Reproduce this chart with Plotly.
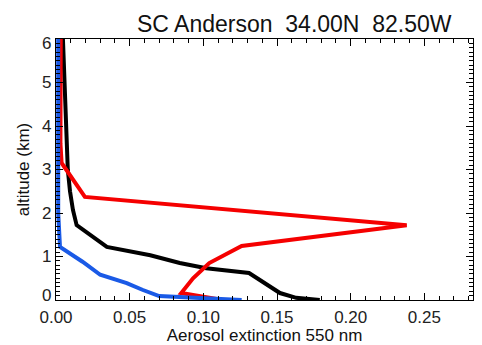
import plotly.graph_objects as go

# Aerosol extinction profiles (km^-1 at 550 nm) versus altitude (km)
black_alt = [0.0, 0.05, 0.16, 0.50, 0.62, 0.73, 0.85, 1.03, 1.22, 1.72, 2.07, 2.50, 3.00, 6.00]
black_ext = [0.179, 0.163, 0.152, 0.136, 0.131, 0.102, 0.084, 0.064, 0.0345, 0.014, 0.0115, 0.0095, 0.008, 0.0047]

red_alt = [0.0, 0.16, 0.50, 0.85, 1.24, 1.72, 2.37, 3.15, 3.60, 6.00]
red_ext = [0.113, 0.085, 0.093, 0.104, 0.126, 0.238, 0.0196, 0.0038, 0.003, 0.0032]

blue_alt = [0.0, 0.07, 0.09, 0.23, 0.39, 0.58, 0.88, 1.22, 2.00, 6.00]
blue_ext = [0.126, 0.085, 0.070, 0.059, 0.048, 0.030, 0.018, 0.0027, 0.0015, 0.0015]

x_ticks = [0.00, 0.05, 0.10, 0.15, 0.20, 0.25]
y_ticks = [0, 1, 2, 3, 4, 5, 6]
y_ticklabels = ["0", "1", "2", "3", "4", "5", "6"]
x_range = [0, 0.283]
y_range = [0, 6]

FONT = "Liberation Sans, Arial, sans-serif"
TICK_FONT = dict(family=FONT, size=17, color="#222222")

fig = go.Figure()
fig.add_trace(go.Scatter(x=black_ext, y=black_alt, mode="lines",
                         line=dict(color="#000000", width=4), showlegend=False))
fig.add_trace(go.Scatter(x=red_ext, y=red_alt, mode="lines",
                         line=dict(color="#f50000", width=4), showlegend=False))
fig.add_trace(go.Scatter(x=blue_ext, y=blue_alt, mode="lines",
                         line=dict(color="#1a5ae6", width=4), showlegend=False))
# empty trace so the mirrored top/right frame axes get drawn
fig.add_trace(go.Scatter(x=[None], y=[None], xaxis="x2", yaxis="y2",
                         showlegend=False, hoverinfo="skip"))

tick_style = dict(ticks="inside", ticklen=7, tickwidth=1.2, tickcolor="black",
                  showgrid=False, zeroline=False, automargin=False)
x_minor = dict(dtick=0.01, tick0=0, ticks="inside", ticklen=3.5, tickwidth=1, tickcolor="black")
y_minor = dict(dtick=0.1, tick0=0, ticks="inside", ticklen=3.5, tickwidth=1, tickcolor="black")

# the end labels of the altitude axis are nudged inward, so they are drawn separately
inner_text = ["" if i in (0, len(y_ticks) - 1) else t for i, t in enumerate(y_ticklabels)]

fig.update_layout(
    width=482, height=345,
    margin=dict(l=56, r=9, t=39, b=45),
    paper_bgcolor="white", plot_bgcolor="white",
    xaxis=dict(
        range=x_range, tickvals=x_ticks, tickformat=".2f",
        showline=True, linecolor="black", linewidth=1.3,
        minor=x_minor, ticklabelstandoff=1,
        tickfont=TICK_FONT,
        title=dict(text="Aerosol extinction 550 nm",
                   font=dict(family=FONT, size=17, color="#111111"), standoff=11),
        **tick_style,
    ),
    yaxis=dict(
        range=y_range, tickvals=y_ticks, ticktext=inner_text,
        showline=True, linecolor="black", linewidth=1.3,
        minor=y_minor,
        tickfont=TICK_FONT,
        title=dict(text="altitude (km)",
                   font=dict(family=FONT, size=17, color="#111111"), standoff=8),
        **tick_style,
    ),
    xaxis2=dict(
        range=x_range, tickvals=x_ticks, overlaying="x", side="top", anchor="y",
        showline=True, linecolor="black", linewidth=1.3, showticklabels=False,
        minor=x_minor, **tick_style,
    ),
    yaxis2=dict(
        range=y_range, tickvals=y_ticks, overlaying="y", side="right", anchor="x",
        showline=True, linecolor="black", linewidth=1.3, showticklabels=False,
        minor=y_minor, **tick_style,
    ),
)

for val, label, shift in [(y_ticks[0], y_ticklabels[0], 5), (y_ticks[-1], y_ticklabels[-1], -4)]:
    fig.add_annotation(
        text=label, xref="paper", yref="y", x=0, y=val,
        xanchor="right", yanchor="middle", xshift=-3, yshift=shift,
        showarrow=False, font=TICK_FONT,
    )

fig.add_annotation(
    text="SC Anderson\u00a0\u00a034.00N\u00a0\u00a082.50W", xref="paper", yref="paper",
    x=0.571, y=1.057, xanchor="center", yanchor="middle", showarrow=False,
    font=dict(family=FONT, size=23, color="#111111"),
)

fig.write_html("out.html")
